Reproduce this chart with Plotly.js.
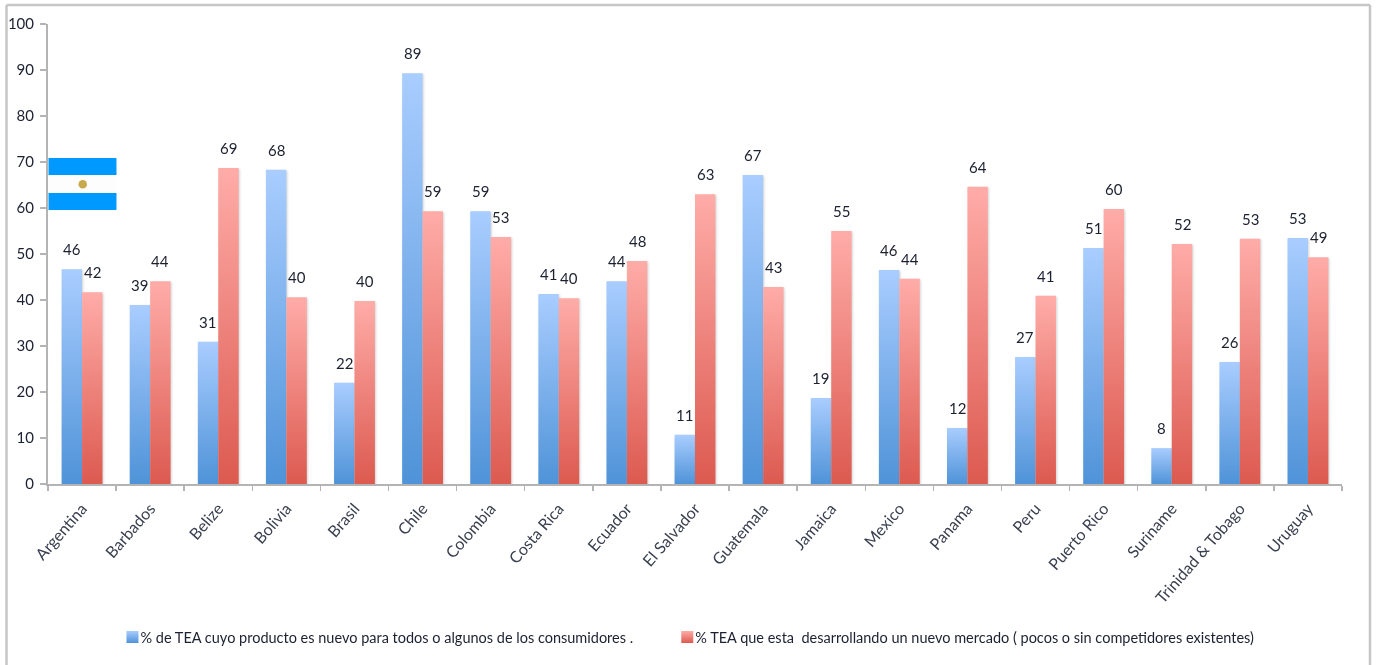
<!DOCTYPE html>
<html><head><meta charset="utf-8">
<script src="https://cdn.plot.ly/plotly-3.0.1.min.js"></script>
<style>html,body{margin:0;padding:0;background:#fff}#c{width:1376px;height:665px;filter:blur(0.4px)}</style>
</head><body><div id="c"></div>
<script>
const categories=["Argentina","Barbados","Belize","Bolivia","Brasil","Chile","Colombia","Costa Rica","Ecuador","El Salvador","Guatemala","Jamaica","Mexico","Panama","Peru","Puerto Rico","Suriname","Trinidad & Tobago","Uruguay"];
const productoNuevo=[46.7,38.9,30.9,68.3,22,89.3,59.3,41.3,44.1,10.7,67.2,18.7,46.5,12.2,27.6,51.3,7.8,26.5,53.5];
const mercadoNuevo=[41.7,44.1,68.7,40.6,39.8,59.3,53.7,40.4,48.5,63,42.8,55,44.6,64.6,40.9,59.8,52.2,53.3,49.3];
const etiquetasProducto=[46,39,31,68,22,89,59,41,44,11,67,19,46,12,27,51,8,26,53];
const etiquetasMercado=[42,44,69,40,40,59,53,40,48,63,43,55,44,64,41,60,52,53,49];
const nombreProducto="% de TEA cuyo producto es nuevo para todos o algunos de los consumidores .";
const nombreMercado="% TEA que esta  desarrollando un nuevo mercado ( pocos o sin competidores existentes)";
const FONT='Lato,"Liberation Sans",sans-serif';
const ink='#1c2030';
const W=1376,H=665,L=47.5,R=34,T=24,B=181;
const px=x=>(x-L)/(W-L-R), py=y=>(H-B-y)/(H-T-B);
const lab=(vals,txt,dx)=>vals.map((v,i)=>({x:categories[i],y:v,text:String(txt[i]),xref:'x',yref:'y',showarrow:false,xshift:dx,yshift:10,yanchor:'bottom',xanchor:'center',font:{family:FONT,size:15,color:ink},borderpad:0}));
const traces=[
 {type:'bar',name:nombreProducto,x:categories,y:productoNuevo,marker:{color:'#6fa8e6'},hoverinfo:'y',legend:'legend'},
 {type:'bar',name:nombreMercado,x:categories,y:mercadoNuevo,marker:{color:'#ee7d75'},hoverinfo:'y',legend:'legend2'}
];
const rect=(x0,x1,y0,y1,fill)=>({type:'rect',xref:'paper',yref:'paper',x0:px(x0),x1:px(x1),y0:py(y0),y1:py(y1),fillcolor:fill,line:{width:0},layer:'above'});
const frame=(x0,y0,x1,y1)=>({type:'line',xref:'paper',yref:'paper',x0:px(x0),x1:px(x1),y0:py(y0),y1:py(y1),line:{color:'#c6c6c6',width:2.5}});
const leg=x=>({orientation:'h',x:px(x),xanchor:'left',y:py(621),yanchor:'top',font:{family:FONT,size:14.5,color:ink},bgcolor:'rgba(0,0,0,0)',itemwidth:30});
const layout={
 width:W,height:H,autosize:false,paper_bgcolor:'#fff',plot_bgcolor:'#fff',
 margin:{l:L,r:R,t:T,b:B,pad:0,autoexpand:false},
 barmode:'group',bargap:0.4,bargroupgap:0,
 font:{family:FONT,size:15,color:ink},
 showlegend:true,
 xaxis:{type:'category',tickson:'boundaries',ticks:'outside',ticklen:5,tickcolor:'#b4b4b4',tickwidth:1.5,showline:true,linecolor:'#b4b4b4',linewidth:2,tickangle:-49,ticklabelstandoff:7,showgrid:false,tickfont:{family:FONT,size:16,color:'#3a4050'},automargin:false},
 yaxis:{range:[0,100],tick0:0,dtick:10,ticks:'outside',ticklen:6,tickcolor:'#b4b4b4',tickwidth:1.5,showline:true,linecolor:'#b4b4b4',linewidth:2,ticklabelstandoff:3,showgrid:false,zeroline:false,tickfont:{family:FONT,size:15,color:ink},automargin:false},
 legend:leg(100),
 legend2:leg(655),
 annotations:[...lab(productoNuevo,etiquetasProducto,-10.3),...lab(mercadoNuevo,etiquetasMercado,10.3)],
 shapes:[
  frame(6,5,1370,5),frame(6,5,6,665),frame(1370,5,1370,665),
  rect(48,116,158,175,'#0099ff'),rect(48,116,175,193,'#fdfdfd'),rect(48,116,193,210,'#0099ff'),
  {type:'circle',xref:'paper',yref:'paper',x0:px(78),x1:px(86.5),y0:py(180),y1:py(188.5),fillcolor:'#c9a94e',line:{width:0},layer:'above'}
 ]
};
Plotly.newPlot('c',traces,layout,{displayModeBar:false,staticPlot:true}).then(gd=>{
 const svg=gd.querySelector('.main-svg');
 const NS='http://www.w3.org/2000/svg';
 const defs=document.createElementNS(NS,'defs');
 [['gBlue','#a9cdff','#4f93d8'],['gRed','#ffaca8','#dc5a50']].forEach(([id,a,b])=>{
  const g=document.createElementNS(NS,'linearGradient');
  g.setAttribute('id',id);g.setAttribute('x1','0');g.setAttribute('y1','0');g.setAttribute('x2','0');g.setAttribute('y2','1');
  [[0,a],[1,b]].forEach(([o,c])=>{const s=document.createElementNS(NS,'stop');s.setAttribute('offset',o);s.setAttribute('stop-color',c);g.appendChild(s);});
  defs.appendChild(g);
 });
 svg.insertBefore(defs,svg.firstChild);
 const ids=['gBlue','gRed'];
 gd.querySelectorAll('.barlayer .trace').forEach((t,i)=>{
  t.querySelectorAll('path').forEach(p=>{p.style.fill='url(#'+ids[i]+')';});
  t.style.filter='drop-shadow(1px 1px 1px rgba(0,0,0,.18))';
 });
 gd.querySelectorAll('.legendpoints').forEach((t,i)=>{
  t.querySelectorAll('path').forEach(p=>{p.style.fill='url(#'+ids[i]+')';p.style.transform='translate(32px,0)';});
 });
});
</script></body></html>
